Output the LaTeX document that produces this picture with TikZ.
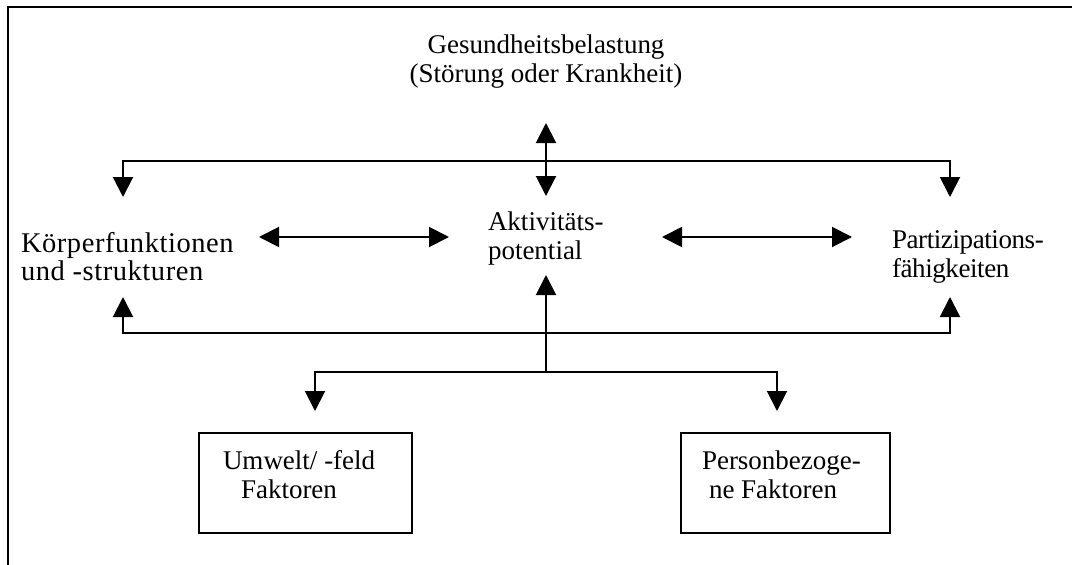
\documentclass[tikz,border=0pt]{standalone}
\usepackage{fontspec}
\setmainfont{Liberation Serif}
\newfontfamily\kfont[LetterSpace=2]{Liberation Serif}
\newfontfamily\pfont[LetterSpace=-1.5]{Liberation Serif}
\usetikzlibrary{arrows.meta}
\begin{document}
\begin{tikzpicture}[x=1pt,y=-1pt, line width=2pt,
  tri/.tip={Triangle[width=20pt,length=20pt]},
  arr/.style={-tri},
  darr/.style={tri-tri},
  lbl/.style={font=\fontsize{27}{29}\selectfont, inner sep=0pt, align=left},
  box/.style={draw, minimum height=100pt, inner sep=0pt}]
\useasboundingbox (0,0) rectangle (1072,565);
\draw[line width=2.6pt] (1072,7) -- (8,7) -- (8,565);
% labels
\node[lbl, align=center] (G) at (546,62) {Gesundheitsbelastung\\(Störung oder Krankheit)};
\node[lbl, anchor=west, font=\fontsize{28.5}{28}\selectfont\kfont] (K) at (20,257) {Körperfunktionen\\und -strukturen};
\node[lbl, anchor=west] (A) at (487,239) {Aktivitäts-\\potential};
\node[lbl, anchor=west, font=\fontsize{27}{29}\selectfont\pfont] (P) at (891,257) {Partizipations-\\fähigkeiten};
% boxes
\node[box, minimum width=213pt] (U) at (305.5,483) {};
\node[box, minimum width=209pt] (Pe) at (785.5,483) {};
\node[lbl, anchor=west] (Ut) at (222,475) {Umwelt/ -feld\\\hspace*{18pt}Faktoren};
\node[lbl, anchor=west] (Pt) at (701,475) {Personbezoge-\\\hspace*{7pt}ne Faktoren};
% connector coordinates
\coordinate (gtip) at (546,123);
\coordinate (atop) at (546,196);
\coordinate (hubT) at (546,161);
\coordinate (ktop) at (123,197);
\coordinate (ptop) at (950,197);
\coordinate (kr) at (259,237);
\coordinate (al) at (449,237);
\coordinate (ar) at (662,237);
\coordinate (pl) at (852,237);
\coordinate (hubB) at (546,333);
\coordinate (kbot) at (123,297);
\coordinate (pbot) at (950,297);
\coordinate (abot) at (546,275);
\coordinate (hubL) at (546,372);
\coordinate (utop) at (315,411);
\coordinate (petop) at (777,411);
% connectors
\draw[darr] (gtip) -- (atop);
\draw[arr] (hubT) -| (ktop);
\draw[arr] (hubT) -| (ptop);
\draw[darr] (kr) -- (al);
\draw[darr] (ar) -- (pl);
\draw[arr] (hubL) -- (abot);
\draw[arr] (hubB) -| (kbot);
\draw[arr] (hubB) -| (pbot);
\draw[arr] (hubL) -| (utop);
\draw[arr] (hubL) -| (petop);
\end{tikzpicture}
\end{document}
